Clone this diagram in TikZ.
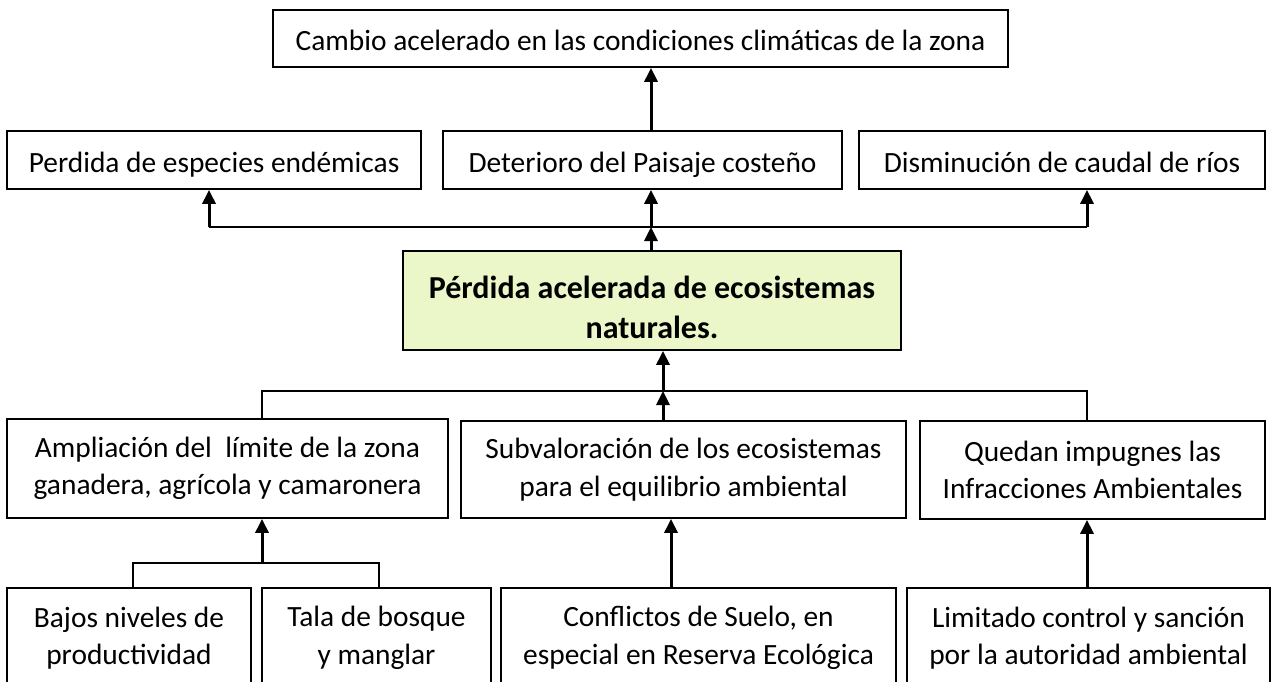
\documentclass[tikz,border=0pt]{standalone}
\usepackage{fontspec}
\setmainfont{Carlito}
\usetikzlibrary{arrows.meta}
\definecolor{greenfill}{RGB}{235,247,200}
\tikzset{
  box/.style={draw=black, line width=1.7pt, fill=white, align=center, inner sep=0pt,
    font=\fontsize{29.4}{37.5}\selectfont},
  one/.style={text height=26pt, text depth=2pt},
  keybox/.style={box, fill=greenfill, font=\fontsize{32}{40}\selectfont\bfseries},
  link/.style={draw=black, line width=1.8pt},
  arr/.style={draw=black, line width=3pt, -{Triangle[length=14pt,width=13pt]}},
}
\begin{document}
\begin{tikzpicture}[x=1pt,y=-1pt]
\useasboundingbox (0,0) rectangle (1274,681);
\clip (0,0) rectangle (1274,681);
\fill[white] (0,0) rectangle (1274,681);
% nodes
\node[box, one, minimum width=735pt, minimum height=57pt] (top) at (640.5,38.5) {Cambio acelerado en las condiciones climáticas de la zona};
\node[box, one, minimum width=414pt, minimum height=58pt] (p1) at (214,160) {Perdida de especies endémicas};
\node[box, one, minimum width=399pt, minimum height=58pt] (p2) at (642.5,160) {Deterioro del Paisaje costeño};
\node[box, one, minimum width=406pt, minimum height=58pt] (p3) at (1062,160) {Disminución de caudal de ríos};
\node[keybox, minimum width=498pt, minimum height=99pt] (g) at (652,300.5) {\rule{0pt}{36pt}Pérdida acelerada de ecosistemas\\naturales.};
\node[box, minimum width=441pt, minimum height=99pt] (a1) at (227.5,468.5) {Ampliación del\ \ límite de la zona\\ganadera, agrícola y camaronera};
\node[box, minimum width=445pt, minimum height=97pt] (a2) at (683.5,469.5) {Subvaloración de los ecosistemas\\para el equilibrio ambiental};
\node[box, minimum width=345pt, minimum height=98pt] (a3) at (1092.5,470) {Quedan impugnes las\\Infracciones Ambientales};
\node[box, minimum width=244pt, minimum height=100pt] (b1) at (129,638) {Bajos niveles de\\productividad};
\node[box, minimum width=229pt, minimum height=100pt] (b2) at (376.5,638) {Tala de bosque\\y manglar};
\node[box, minimum width=395pt, minimum height=100pt] (b3) at (698.5,638) {Conflictos de Suelo, en\\especial en Reserva Ecológica};
\node[box, minimum width=363pt, minimum height=100pt] (b4) at (1088.5,638) {Limitado control y sanción\\por la autoridad ambiental};
% helper coordinates
\coordinate (xT) at (651,0);
\coordinate (xL) at (209,0);
\coordinate (xR) at (1087,0);
\coordinate (xG) at (663,0);
\coordinate (xA) at (262,0);
\coordinate (xS) at (671,0);
\coordinate (xB1) at (133,0);
\coordinate (xB2) at (379,0);
\coordinate (h1) at (651,227);
\coordinate (h2) at (663,391);
\coordinate (h3) at (262,563);
% upper connectors
\draw[arr] (p2.north -| xT) -- (top.south -| xT);
\draw[link] (h1 -| xL) -- (h1 -| xR);
\draw[arr] (g.north -| xT) -- (h1);
\draw[arr] (h1 -| xL) -- (p1.south -| xL);
\draw[arr] (h1) -- (p2.south -| xT);
\draw[arr] (h1 -| xR) -- (p3.south -| xR);
% middle connectors
\draw[link] (a1.north -| xA) -- (h2 -| xA) -- (h2 -| xR) -- (a3.north -| xR);
\draw[arr] (a2.north -| xG) -- (h2);
\draw[arr] (h2) -- (g.south -| xG);
% lower connectors
\draw[link] (b1.north -| xB1) -- (h3 -| xB1) -- (h3 -| xB2) -- (b2.north -| xB2);
\draw[arr] (h3) -- (a1.south -| xA);
\draw[arr] (b3.north -| xS) -- (a2.south -| xS);
\draw[arr] (b4.north -| xR) -- (a3.south -| xR);
\end{tikzpicture}
\end{document}
